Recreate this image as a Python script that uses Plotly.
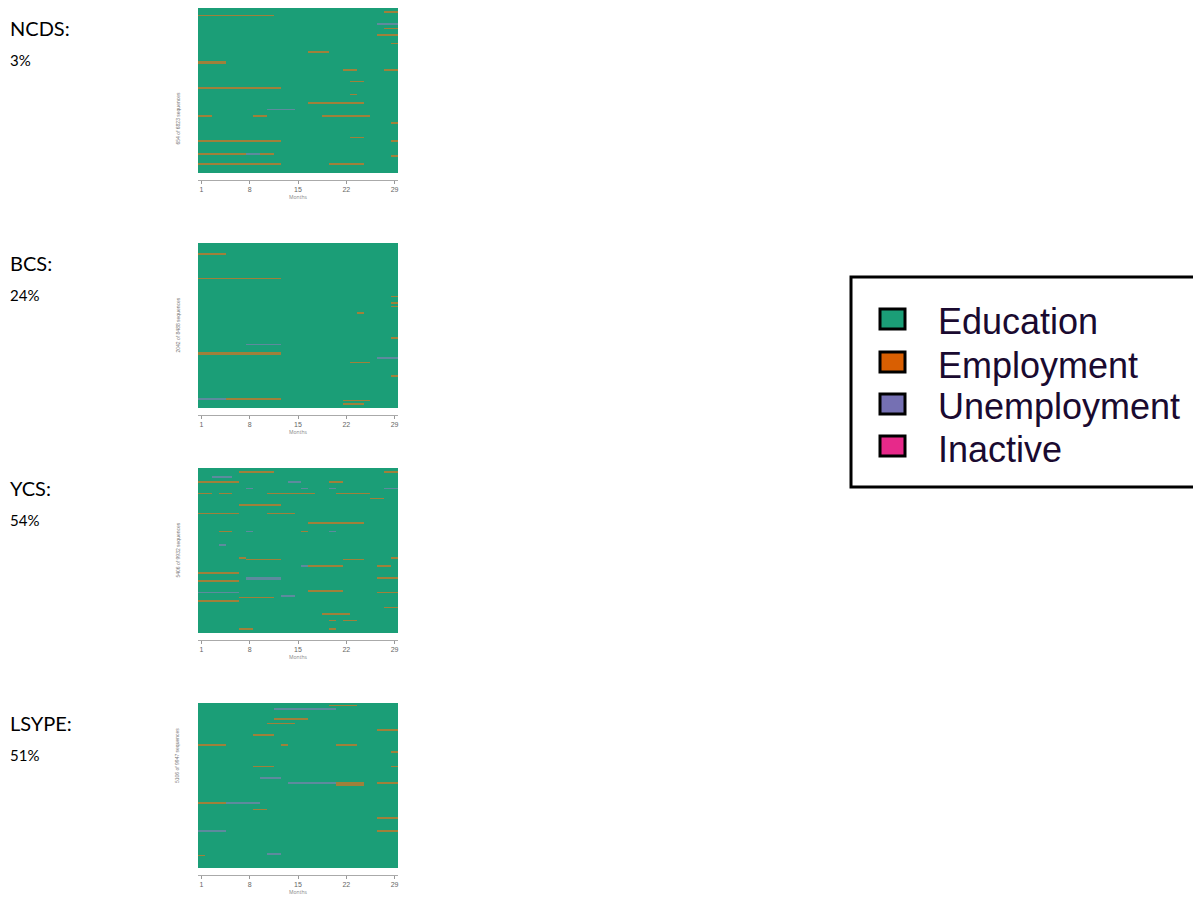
import plotly.graph_objects as go

W, H = 1193, 902

# ---------------- data ----------------
cohorts = ["NCDS", "BCS", "YCS", "LSYPE"]
shares = ["3%", "24%", "54%", "51%"]
seq_labels = ["654 of 6823 sequences", "2042 of 8488 sequences",
              "5406 of 9932 sequences", "5106 of 9947 sequences"]
months = list(range(1, 30))
month_ticks = [1, 8, 15, 22, 29]
states = ["Education", "Employment", "Unemployment", "Inactive"]
state_colors = ["#1B9E77", "#D95F02", "#7570B3", "#E7298A"]
n_rows = 100

# segments: (row, first month, last month, state index)
ncds_segments = [
    (4, 1, 11, 1), (2, 28, 29, 1), (9, 27, 29, 2), (12, 28, 29, 1), (16, 27, 29, 1),
    (21, 29, 29, 1), (26, 17, 19, 1), (32, 1, 4, 1), (33, 1, 4, 1), (37, 22, 23, 1),
    (37, 28, 29, 1), (44, 23, 24, 1), (48, 1, 12, 1), (52, 23, 23, 1), (57, 17, 24, 1),
    (61, 11, 14, 2), (65, 1, 2, 1), (65, 9, 10, 1), (65, 19, 25, 1), (69, 29, 29, 1),
    (78, 23, 24, 1), (80, 1, 12, 1), (80, 29, 29, 1), (88, 1, 7, 1), (88, 8, 9, 2),
    (88, 10, 11, 1), (89, 29, 29, 1), (94, 1, 12, 1), (94, 20, 24, 1),
]
bcs_segments = [
    (6, 1, 4, 1), (21, 1, 12, 1), (32, 29, 29, 1), (36, 29, 29, 1), (38, 29, 29, 1),
    (42, 24, 24, 1), (57, 29, 29, 1), (61, 8, 12, 2), (66, 1, 12, 1), (67, 1, 12, 1),
    (69, 27, 29, 2), (72, 23, 25, 1), (80, 29, 29, 1), (94, 1, 4, 2), (94, 5, 12, 1),
    (95, 22, 25, 1), (97, 22, 24, 1),
]
ycs_segments = [
    (2, 7, 11, 1), (2, 28, 29, 1), (5, 3, 5, 2), (8, 1, 6, 1), (8, 14, 15, 2),
    (8, 20, 21, 1), (12, 8, 8, 2), (12, 16, 16, 2), (12, 20, 20, 2), (12, 28, 29, 2),
    (15, 1, 2, 1), (15, 4, 5, 1), (15, 11, 17, 1), (15, 21, 25, 1), (18, 26, 27, 1),
    (22, 7, 12, 1), (27, 1, 6, 1), (27, 11, 14, 1), (33, 17, 24, 1), (38, 4, 5, 1),
    (38, 8, 8, 2), (38, 16, 16, 1), (38, 20, 20, 2), (46, 4, 4, 2), (54, 7, 7, 1),
    (54, 29, 29, 1), (55, 8, 12, 1), (55, 22, 24, 1), (59, 16, 16, 2), (59, 17, 21, 1),
    (59, 27, 28, 1), (63, 1, 6, 1), (66, 8, 12, 2), (67, 8, 12, 2), (66, 27, 29, 1),
    (68, 1, 6, 1), (74, 17, 21, 1), (75, 1, 6, 2), (75, 27, 29, 1), (77, 13, 14, 2),
    (78, 7, 11, 1), (80, 1, 6, 1), (84, 28, 29, 1), (88, 19, 22, 1), (92, 20, 20, 1),
    (92, 22, 23, 1), (97, 7, 8, 1), (97, 20, 20, 1),
]
lsype_segments = [
    (1, 20, 23, 1), (3, 12, 20, 2), (9, 12, 16, 1), (12, 11, 14, 1), (16, 27, 29, 1),
    (19, 9, 11, 1), (25, 1, 4, 1), (25, 13, 13, 1), (25, 21, 23, 1), (29, 29, 29, 1),
    (38, 9, 11, 1), (38, 29, 29, 1), (45, 10, 12, 2), (48, 14, 20, 2), (48, 21, 24, 1),
    (49, 21, 24, 1), (48, 27, 29, 1), (60, 1, 4, 1), (60, 5, 9, 2), (64, 9, 10, 1),
    (69, 27, 29, 1), (77, 1, 4, 2), (77, 27, 29, 1), (91, 11, 12, 2), (92, 1, 1, 1),
]
all_segments = [ncds_segments, bcs_segments, ycs_segments, lsype_segments]

# ---------------- layout geometry (pixels) ----------------
plot_x0, plot_x1 = 198, 398
panel_tops = [8, 243, 468, 703]
panel_h = 165
axis_gap = 7
label_x = 8

# muted (blurred-looking) colours used inside the sequence plots
heat_colors = ["#1B9E77", "#A0803A", "#5E8A9E", "#B85A8A"]


def px(x):
    return x / W


def py(y):
    return 1 - y / H


def build_matrix(segs):
    z = [[0] * len(months) for _ in range(n_rows)]
    for r, a, b, s in segs:
        for m in range(a, b + 1):
            z[r][m - 1] = s
    return z


colorscale = []
for i, c in enumerate(heat_colors):
    colorscale.append([i / 4, c])
    colorscale.append([(i + 1) / 4, c])

fig = go.Figure()
annotations = []
shapes = []
layout_axes = {}

for k, segs in enumerate(all_segments):
    idx = "" if k == 0 else str(k + 1)
    top = panel_tops[k]
    bot = top + panel_h
    fig.add_trace(go.Heatmap(
        z=build_matrix(segs), x=months, y=list(range(n_rows)),
        zmin=-0.5, zmax=3.5, colorscale=colorscale, showscale=False,
        xaxis="x" + idx, yaxis="y" + idx, hoverinfo="skip",
    ))
    layout_axes["xaxis" + idx] = dict(
        domain=[px(plot_x0), px(plot_x1)], anchor="free",
        position=py(bot + axis_gap), range=[0.5, 29.5],
        tickvals=month_ticks, ticktext=[str(t) for t in month_ticks],
        ticks="outside", ticklen=3, tickwidth=1, tickcolor="#999999",
        showline=True, linecolor="#aaaaaa", linewidth=1,
        showgrid=False, zeroline=False,
        tickfont=dict(size=7, color="#666666", family="Liberation Sans"),
        title=dict(text="Months", font=dict(size=5, color="#888888"), standoff=3),
        fixedrange=True,
    )
    layout_axes["yaxis" + idx] = dict(
        domain=[py(bot), py(top)], anchor="x" + idx,
        range=[n_rows - 0.5, -0.5], showticklabels=False, ticks="",
        showgrid=False, zeroline=False, showline=False, fixedrange=True,
    )
    # sequence count label
    annotations.append(dict(
        x=px(172), y=py(top + panel_h / 2), xref="paper", yref="paper",
        text=seq_labels[k], textangle=-90, showarrow=False,
        font=dict(size=5, color="#777777", family="Liberation Sans"),
    ))
    # cohort name and share
    annotations.append(dict(
        x=px(label_x), y=py(top + 20), xref="paper", yref="paper",
        xanchor="left", yanchor="middle", text=cohorts[k] + ":", showarrow=False,
        font=dict(size=20, color="#000000", family="Lato"),
    ))
    annotations.append(dict(
        x=px(label_x), y=py(top + 52), xref="paper", yref="paper",
        xanchor="left", yanchor="middle", text=shares[k], showarrow=False,
        font=dict(size=15, color="#000000", family="Lato"),
    ))

# ---------------- legend box ----------------
shapes.append(dict(type="rect", xref="paper", yref="paper",
                   x0=px(851), x1=px(1205), y0=py(487), y1=py(277),
                   line=dict(color="#000000", width=3), fillcolor="rgba(0,0,0,0)"))
legend_centers = [319, 362, 404, 446]
for i, name in enumerate(states):
    cy = legend_centers[i]
    shapes.append(dict(type="rect", xref="paper", yref="paper",
                       x0=px(880), x1=px(905), y0=py(cy + 10), y1=py(cy - 10),
                       line=dict(color="#000000", width=3), fillcolor=state_colors[i]))
    annotations.append(dict(
        x=px(936), y=py(cy + 3), xref="paper", yref="paper",
        xanchor="left", yanchor="middle", text=name, showarrow=False,
        font=dict(size=36, color="#1a0a30", family="Liberation Sans"),
    ))

fig.update_layout(
    width=W, height=H, autosize=False,
    margin=dict(l=0, r=0, t=0, b=0, pad=0),
    paper_bgcolor="white", plot_bgcolor="white",
    showlegend=False, annotations=annotations, shapes=shapes,
    **layout_axes,
)

fig.write_html("out.html", post_script="document.body.style.margin='0';",
               config={"displayModeBar": False})
